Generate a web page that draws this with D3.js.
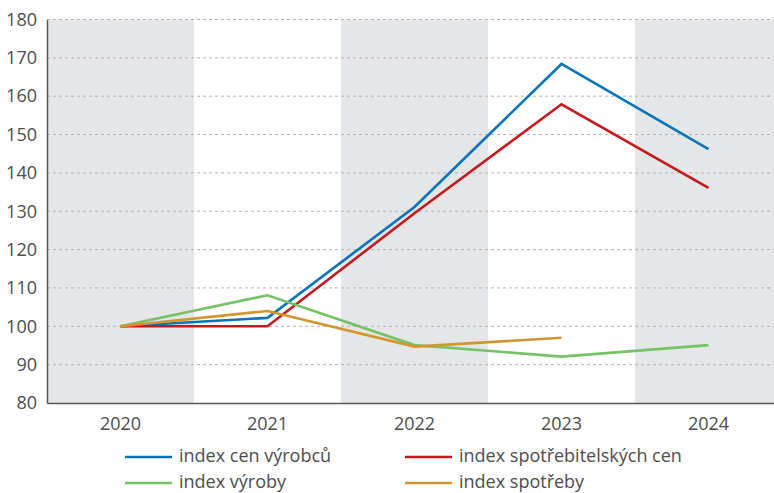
<!DOCTYPE html>
<html>
<head>
<meta charset="utf-8">
<script src="https://cdn.jsdelivr.net/npm/d3@7"></script>
<style>
  body { margin: 0; background: #fff; }
  svg text { font-family: "Open Sans", "Noto Sans", sans-serif; fill: #4d4d4d; }
</style>
</head>
<body>
<svg id="chart" width="774" height="493"></svg>
<script>
const years = ['2020', '2021', '2022', '2023', '2024'];
const cenVyrobcu = [100, 102.2, 131.1, 168.4, 146.2];
const cenSpotrebitelskych = [100, 100, 129.5, 157.9, 136.1];
const vyroby = [100, 108.1, 95.1, 92.1, 95.1];
const spotreby = [100, 104, 94.7, 97.0, null];
const yTicks = [80, 90, 100, 110, 120, 130, 140, 150, 160, 170, 180];

const series = [
    { name: 'index cen výrobců', values: cenVyrobcu, color: '#0a74bb' },
    { name: 'index spotřebitelských cen', values: cenSpotrebitelskych, color: '#c3191f' },
    { name: 'index výroby', values: vyroby, color: '#76c267' },
    { name: 'index spotřeby', values: spotreby, color: '#d2962e' }
];

const margin = { top: 19.5, left: 47 },
    plotW = 735,
    plotH = 383.5;

const svg = d3.select('#chart');
const g = svg.append('g').attr('transform', `translate(${margin.left},${margin.top})`);

const x = d3.scaleBand().domain(years).range([0, plotW]);
const y = d3.scaleLinear().domain([80, 180]).range([plotH, 0]);

// alternating gray bands
g.selectAll('.band')
    .data(years.filter((d, i) => i % 2 === 0))
    .enter().append('rect')
    .attr('x', d => x(d))
    .attr('y', 0)
    .attr('width', x.bandwidth())
    .attr('height', plotH)
    .attr('fill', '#e5e6e8');

// dashed gridlines
g.selectAll('.grid')
    .data(yTicks.filter(d => d > 80))
    .enter().append('line')
    .attr('x1', 0)
    .attr('x2', plotW)
    .attr('y1', d => y(d))
    .attr('y2', d => y(d))
    .attr('stroke', '#b3b3b3')
    .attr('stroke-width', 1)
    .attr('stroke-dasharray', '3,3');

// y axis
const yAxis = d3.axisLeft(y).tickValues(yTicks).tickSize(0).tickPadding(10);
const yg = g.append('g').call(yAxis);
yg.select('.domain').attr('stroke', '#555').attr('stroke-width', 1.5);
yg.selectAll('text').style('font-size', '18px').attr('fill', '#4d4d4d');

// x axis
const xAxis = d3.axisBottom(x).tickSize(0).tickPadding(14);
const xg = g.append('g').attr('transform', `translate(0,${plotH})`).call(xAxis);
xg.select('.domain').attr('stroke', '#555').attr('stroke-width', 1.5);
xg.selectAll('text').style('font-size', '18px').attr('fill', '#4d4d4d');

// lines
const line = d3.line()
    .defined(d => d.v != null)
    .x(d => x(d.year) + x.bandwidth() / 2)
    .y(d => y(d.v));

series.forEach(s => {
    g.append('path')
        .datum(years.map((yr, i) => ({ year: yr, v: s.values[i] })))
        .attr('fill', 'none')
        .attr('stroke', s.color)
        .attr('stroke-width', 2.6)
        .attr('d', line);
});

// legend
const legendPos = [
    { x: 125, y: 457 }, { x: 405, y: 457 },
    { x: 125, y: 483 }, { x: 405, y: 483 }
];
series.forEach((s, i) => {
    const lg = svg.append('g').attr('transform', `translate(${legendPos[i].x},${legendPos[i].y})`);
    lg.append('line')
        .attr('x1', 0).attr('x2', 47)
        .attr('stroke', s.color)
        .attr('stroke-width', 2.6);
    lg.append('text')
        .attr('x', 54)
        .attr('dy', '0.26em')
        .style('font-size', '18px')
        .text(s.name);
});
</script>
</body>
</html>
